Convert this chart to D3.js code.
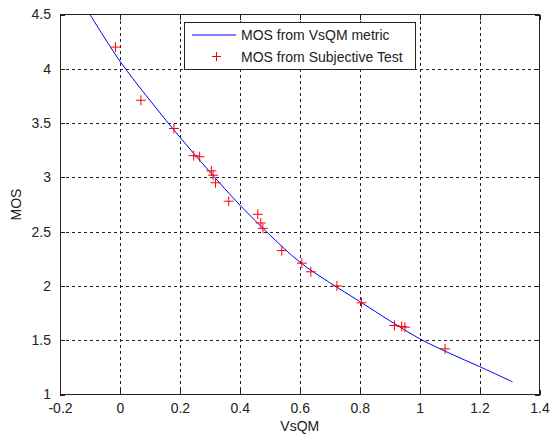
<!DOCTYPE html>
<html>
<head>
<meta charset="utf-8">
<script src="https://cdn.jsdelivr.net/npm/d3@7"></script>
<style>
  html, body { margin: 0; padding: 0; background: #fff; }
  svg { display: block; }
  text { font-family: Arial, "Liberation Sans", sans-serif; fill: #222; }
</style>
</head>
<body>
<svg id="chart" width="550" height="437"></svg>
<script>
// ---- data ----
const xTicks = [-0.2, 0, 0.2, 0.4, 0.6, 0.8, 1, 1.2, 1.4];
const yTicks = [1, 1.5, 2, 2.5, 3, 3.5, 4, 4.5];
const xTickLabels = ["-0.2", "0", "0.2", "0.4", "0.6", "0.8", "1", "1.2", "1.4"];
const yTickLabels = ["1", "1.5", "2", "2.5", "3", "3.5", "4", "4.5"];

// fitted curve "MOS from VsQM metric"
const curveX = [-0.1, 0.0, 0.1, 0.2, 0.3, 0.4, 0.5, 0.6, 0.7, 0.8, 0.9, 1.0, 1.1, 1.2, 1.31];
const curveY = [4.5, 4.07, 3.71, 3.37, 3.05, 2.745, 2.47, 2.22, 2.03, 1.857, 1.68, 1.514, 1.38, 1.257, 1.117];

// subjective test points
const testX = [-0.015, 0.07, 0.18, 0.246, 0.266, 0.305, 0.311, 0.319, 0.363, 0.46, 0.47, 0.477, 0.54, 0.607, 0.637, 0.724, 0.806, 0.916, 0.94, 0.951, 1.085];
const testY = [4.2, 3.71, 3.45, 3.20, 3.19, 3.06, 3.02, 2.95, 2.78, 2.66, 2.58, 2.53, 2.325, 2.21, 2.13, 2.00, 1.845, 1.636, 1.627, 1.62, 1.42];

const seriesNames = ["MOS from VsQM metric", "MOS from Subjective Test"];

// ---- layout ----
const svg = d3.select("#chart");
const mLeft = 60, mRight = 539.5, mTop = 14.5, mBottom = 394.5;

const x = d3.scaleLinear().domain([-0.2, 1.4]).range([mLeft, mRight]);
const y = d3.scaleLinear().domain([1, 4.5]).range([mBottom, mTop]);

svg.append("rect").attr("width", 550).attr("height", 437).attr("fill", "#fff");

// grid
const grid = svg.append("g").attr("stroke", "#222").attr("stroke-width", 1)
  .attr("stroke-dasharray", "3,3").attr("shape-rendering", "crispEdges");
grid.selectAll("line.gx").data(xTicks.slice(1, -1)).join("line")
  .attr("x1", d => Math.round(x(d)) + 0.5).attr("x2", d => Math.round(x(d)) + 0.5)
  .attr("y1", mTop).attr("y2", mBottom);
grid.selectAll("line.gy").data(yTicks.slice(1, -1)).join("line")
  .attr("y1", d => Math.round(y(d)) + 0.5).attr("y2", d => Math.round(y(d)) + 0.5)
  .attr("x1", mLeft).attr("x2", mRight);

// axes with inward ticks
const fmtX = (d, i) => xTickLabels[i];
const fmtY = (d, i) => yTickLabels[i];
const gx = svg.append("g").attr("transform", `translate(0,${mBottom})`)
  .call(d3.axisBottom(x).tickValues(xTicks).tickFormat(fmtX).tickSizeInner(-5).tickSizeOuter(0).tickPadding(9));
const gy = svg.append("g").attr("transform", `translate(${mLeft},0)`)
  .call(d3.axisLeft(y).tickValues(yTicks).tickFormat(fmtY).tickSizeInner(-5).tickSizeOuter(0).tickPadding(9));
const gt = svg.append("g").attr("transform", `translate(0,${mTop})`)
  .call(d3.axisTop(x).tickValues(xTicks).tickFormat("").tickSizeInner(-5).tickSizeOuter(0));
const gr = svg.append("g").attr("transform", `translate(${mRight},0)`)
  .call(d3.axisRight(y).tickValues(yTicks).tickFormat("").tickSizeInner(-5).tickSizeOuter(0));
[gx, gy, gt, gr].forEach(g => {
  g.select(".domain").remove();
  g.selectAll("line").attr("stroke", "#222").attr("shape-rendering", "crispEdges");
  g.selectAll("text").attr("font-size", 14).attr("fill", "#222")
    .style("font-family", "Arial, 'Liberation Sans', sans-serif");
});
gx.selectAll("text").attr("dy", "0.71em");

// frame
svg.append("rect").attr("x", mLeft).attr("y", mTop).attr("width", mRight - mLeft).attr("height", mBottom - mTop)
  .attr("fill", "none").attr("stroke", "#222").attr("stroke-width", 1).attr("shape-rendering", "crispEdges");

// curve
const curveData = curveX.map((v, i) => [v, curveY[i]]);
svg.append("path").datum(curveData)
  .attr("fill", "none").attr("stroke", "#0000ff").attr("stroke-width", 1)
  .attr("d", d3.line().x(d => x(d[0])).y(d => y(d[1])).curve(d3.curveCatmullRom));

// plus markers
const plus = (cx, cy, r) => `M${cx - r},${cy}H${cx + r}M${cx},${cy - r}V${cy + r}`;
const testData = testX.map((v, i) => [v, testY[i]]);
svg.append("g").selectAll("path").data(testData).join("path")
  .attr("d", d => plus(x(d[0]), y(d[1]), 5))
  .attr("stroke", "#ff0000").attr("stroke-width", 1).attr("fill", "none");

// axis labels
svg.append("text").attr("x", (mLeft + mRight) / 2).attr("y", 431).attr("text-anchor", "middle")
  .attr("font-size", 14).text("VsQM");
svg.append("text").attr("transform", `translate(21,${(mTop + mBottom) / 2}) rotate(-90)`)
  .attr("text-anchor", "middle").attr("font-size", 14).text("MOS");

// legend
const lg = svg.append("g");
lg.append("rect").attr("x", 184.5).attr("y", 22.5).attr("width", 231).attr("height", 47)
  .attr("fill", "#fff").attr("stroke", "#222").attr("stroke-width", 1).attr("shape-rendering", "crispEdges");
lg.append("line").attr("x1", 192).attr("x2", 236).attr("y1", 35).attr("y2", 35)
  .attr("stroke", "#0000ff").attr("stroke-width", 1);
lg.append("path").attr("d", plus(216.5, 56.5, 4.5)).attr("stroke", "#ff0000").attr("stroke-width", 1);
lg.selectAll("text").data(seriesNames).join("text")
  .attr("x", 241).attr("y", (d, i) => 40 + i * 22).attr("font-size", 14).text(d => d);
</script>
</body>
</html>
